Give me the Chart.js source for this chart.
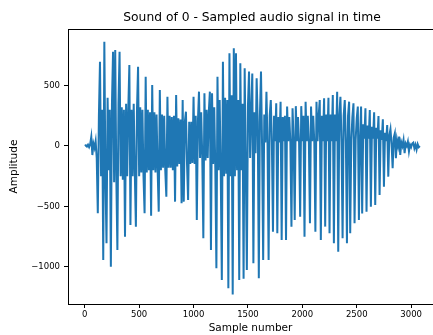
<!DOCTYPE html>
<html>
<head>
<meta charset="utf-8">
<script src="https://cdn.jsdelivr.net/npm/chart.js@4"></script>
<style>
  html, body { margin: 0; padding: 0; background: #fff; }
  #wrap { width: 433px; height: 335px; }
</style>
</head>
<body>
<div id="wrap"><canvas id="myChart"></canvas></div>
<script>
// one value every 10 samples (rows of 100 samples)
var sampleStep = 10;
var amplitude = [
    0, 5, -5, 10, -10, 15, 75, -75, 20, -15,
    40, -100, -557, 250, 698, -250, 300, -945, 864, -250,
    -806, 400, -200, 300, -1000, 350, 781, -300, 795, -250,
    -862, 350, 781, -250, 320, -280, 300, -751, 350, -250,
    300, 671, -655, 300, -250, 350, -220, -668, 300, 657,
    -250, 320, -220, 300, -250, -558, 574, -220, 300, -200,
    280, -577, 505, -200, 280, -220, 260, -200, -544, 464,
    -200, 260, -180, 250, -200, -420, 408, -180, 250, -180,
    240, -200, 250, -461, 422, -170, 230, -150, 220, -475,
    381, -461, 200, 284, -150, -447, 200, -150, 200, -140,
    408, -150, 250, -613, 200, 450, -100, 280, -80, -765,
    436, -120, 300, -100, 280, 450, -862, 436, -150, 320,
    -180, -1013, 574, -200, 380, -220, -1110, 698, -250, 400,
    -230, 380, -1179, 768, -250, 420, -1230, 809, -250, 768,
    -200, 380, -1110, 685, -200, 350, -1100, 643, -150, -1027,
    330, 616, -100, 300, 600, -972, 280, -60, 561, 200,
    -1096, 250, 616, 0, -945, 260, 30, 450, 20, -945,
    250, 381, 30, -710, 250, 40, 353, -723, 240, 30,
    367, -779, 240, 40, 250, -779, 326, 40, 240, 30,
    -668, 312, 40, -613, 330, 40, 240, 30, -586, 330,
    40, 250, -751, 367, 40, 250, 30, -640, 326, 40,
    250, 30, -710, 367, 40, 250, 381, -779, 250, 40,
    395, -668, 260, 40, 400, -723, 260, 40, 422, -806,
    260, 40, 450, -876, 260, 408, 40, -765, 250, 381,
    40, -806, 250, 367, -723, 50, 240, 353, -640, 50,
    230, 326, -613, 60, 326, -560, 180, 60, 312, -544,
    170, 60, 298, -503, 160, 60, 280, -489, 150, 60,
    248, -406, 130, 50, 221, -337, 110, 40, 174, -254,
    90, 140, 20, -185, 70, 105, -102, 50, 0, 78,
    -75, 30, 0, 50, -60, 20, 0, 36, -45, 10,
    -10, 20, 28, -20, 10, -30, 15, -10, 0
];
var xTicks = [0, 500, 1000, 1500, 2000, 2500, 3000];
var yTicks = [-1000, -500, 0, 500];
var chartTitle = 'Sound of 0 - Sampled audio signal in time';

var points = amplitude.map(function (v, i) {
    return { x: i * sampleStep, y: v };
});

// top frame line + title centred over the plot area (like matplotlib)
var frameTop = {
    id: 'frameTop',
    afterDraw: function (chart) {
        var a = chart.chartArea, c = chart.ctx;
        c.save();
        c.strokeStyle = '#000';
        c.lineWidth = 1;
        c.beginPath();
        c.moveTo(a.left, a.top + 0.5);
        c.lineTo(a.right, a.top + 0.5);
        c.stroke();
        c.fillStyle = '#000';
        c.font = '12.3px "DejaVu Sans"';
        c.textAlign = 'center';
        c.textBaseline = 'middle';
        c.fillText(chartTitle, (a.left + 436) / 2, 18);
        c.restore();
    }
};

var ctx = document.getElementById('myChart').getContext('2d');
var myChart = new Chart(ctx, {
    type: 'line',
    data: {
        datasets: [{
            label: 'signal',
            data: points,
            borderColor: '#1f77b4',
            borderWidth: 2,
            pointRadius: 0,
            tension: 0,
            fill: false
        }]
    },
    options: {
        responsive: true,
        maintainAspectRatio: false,
        animation: false,
        layout: { padding: { top: 29, left: 0, right: 0, bottom: 0 } },
        plugins: {
            legend: { display: false },
            tooltip: { enabled: false },
            title: { display: false }
        },
        scales: {
            x: {
                type: 'linear',
                min: -154,
                max: 3201,
                afterBuildTicks: function (s) {
                    s.ticks = xTicks.map(function (v) { return { value: v }; });
                },
                afterFit: function (s) { s.height = 31; },
                grid: { drawOnChartArea: false, drawTicks: true, tickLength: 4, color: '#000' },
                border: { color: '#000', width: 1 },
                ticks: {
                    color: '#000',
                    padding: 2,
                    maxRotation: 0,
                    autoSkip: false,
                    font: { family: 'DejaVu Sans', size: 8.5 },
                    callback: function (v) { return String(v); }
                },
                title: {
                    display: true,
                    text: 'Sample number',
                    color: '#000',
                    font: { family: 'DejaVu Sans', size: 10.5 },
                    padding: 0
                }
            },
            y: {
                min: -1309,
                max: 969,
                afterBuildTicks: function (s) {
                    s.ticks = yTicks.map(function (v) { return { value: v }; });
                },
                afterFit: function (s) { s.width = 68; },
                grid: { drawOnChartArea: false, drawTicks: true, tickLength: 4, color: '#000' },
                border: { color: '#000', width: 1 },
                ticks: {
                    color: '#000',
                    padding: 4,
                    autoSkip: false,
                    font: { family: 'DejaVu Sans', size: 8.5 },
                    callback: function (v) { return v < 0 ? '\u2212' + Math.abs(v) : String(v); }
                },
                title: {
                    display: true,
                    text: 'Amplitude',
                    color: '#000',
                    font: { family: 'DejaVu Sans', size: 10.5 },
                    padding: { top: 8, bottom: 0 }
                }
            }
        }
    },
    plugins: [frameTop]
});
</script>
</body>
</html>
